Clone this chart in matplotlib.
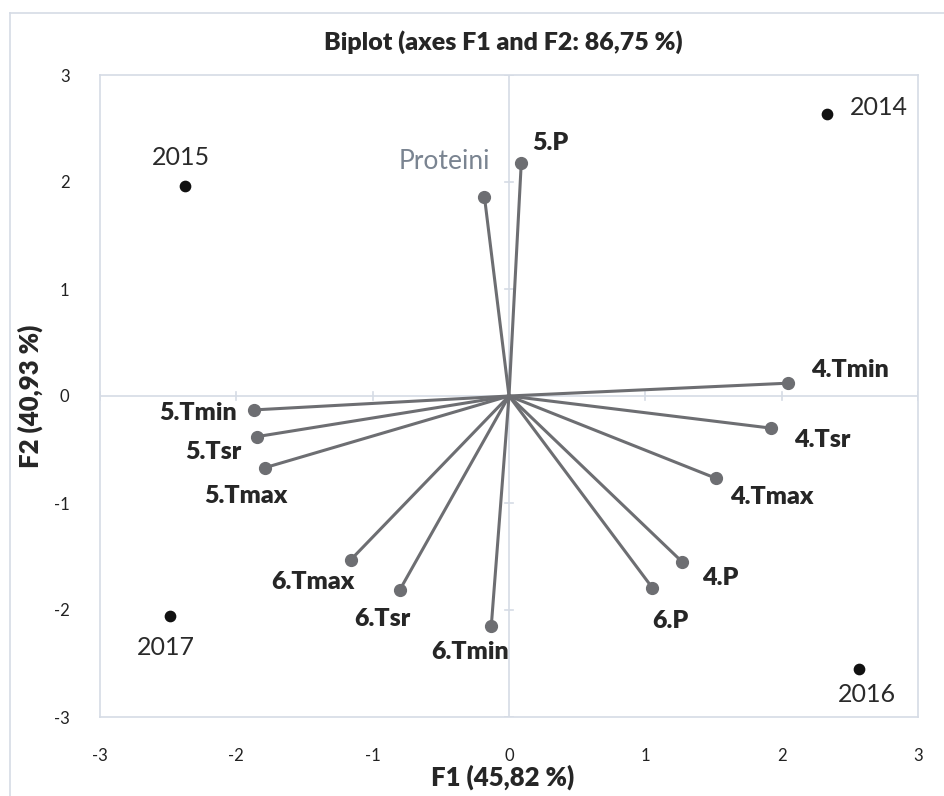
import matplotlib
matplotlib.use("Agg")
import matplotlib.pyplot as plt
from matplotlib.lines import Line2D

plt.rcParams['font.family'] = ['Lato', 'DejaVu Sans']

# observations (years)
years = ['2014', '2015', '2016', '2017']
obs_f1 = [2.33, -2.38, 2.57, -2.49]
obs_f2 = [2.64, 1.96, -2.55, -2.06]

# variables (loadings)
variables = ['5.P', 'Proteini', '4.Tmin', '4.Tsr', '4.Tmax', '4.P', '6.P',
             '6.Tmin', '6.Tsr', '6.Tmax', '5.Tmax', '5.Tsr', '5.Tmin']
var_f1 = [0.09, -0.18, 2.05, 1.92, 1.52, 1.27, 1.05,
          -0.13, -0.80, -1.16, -1.79, -1.85, -1.87]
var_f2 = [2.18, 1.86, 0.12, -0.30, -0.77, -1.55, -1.79,
          -2.15, -1.81, -1.53, -0.67, -0.38, -0.13]

ticks = [-3, -2, -1, 0, 1, 2, 3]

# label offsets in pixels (dx right, dy up)
var_off = [(29, 20), (-40, 35), (61, 13), (51, -12), (56, -19), (38, -16), (18, -33),
           (-21, -26), (-18, -29), (-38, -22), (-19, -28), (-43, -15), (-56, -3)]
obs_off = [(52, 6), (-4, 29), (8, -26), (-4, -31)]

grid_col = '#d5dbe5'
line_col = '#6d6e72'

fig = plt.figure(figsize=(9.44, 7.96), dpi=100)
ax = fig.add_axes([100 / 944, 1 - 717 / 796, 818 / 944, 642 / 796])

# frame around the chart
fig.add_artist(Line2D([10 / 944, 10 / 944], [0, 1 - 13 / 796], color=grid_col, lw=1.2))
fig.add_artist(Line2D([10 / 944, 1], [1 - 13 / 796, 1 - 13 / 796], color=grid_col, lw=1.2))

ax.set_xlim(-3, 3)
ax.set_ylim(-3, 3)
ax.axhline(0, color=grid_col, lw=1.2, zorder=1)
ax.axvline(0, color=grid_col, lw=1.2, zorder=1)
# small tick marks along the zero lines
for t in ticks:
    if t != 0:
        ax.plot([t, t], [-0.04, 0.04], color=grid_col, lw=1.2, zorder=1)
        ax.plot([-0.03, 0.03], [t, t], color=grid_col, lw=1.2, zorder=1)

for sp in ax.spines.values():
    sp.set_color(grid_col)
    sp.set_linewidth(1.2)

ax.set_xticks(ticks)
ax.set_yticks(ticks)
ax.set_xticklabels([str(t) for t in ticks], fontsize=12, color='#222222')
ax.set_yticklabels([str(t) for t in ticks], fontsize=12, color='#222222')
ax.tick_params(length=0, pad=22)
ax.tick_params(axis='y', pad=22)

# vectors
for name, x, y, (dx, dy) in zip(variables, var_f1, var_f2, var_off):
    ax.plot([0, x], [0, y], color=line_col, lw=2.2, zorder=2)
    ax.plot(x, y, 'o', color=line_col, ms=8.5, zorder=3)
    if name == 'Proteini':
        ax.annotate(name, (x, y), xytext=(dx * 0.72, dy * 0.72), textcoords='offset points',
                    ha='center', va='center', fontsize=19, color='#7a8491')
    else:
        ax.annotate(name, (x, y), xytext=(dx * 0.72, dy * 0.72), textcoords='offset points',
                    ha='center', va='center', fontsize=18, fontweight='heavy', color='#262626')

# observations
ax.scatter(obs_f1, obs_f2, s=55, color='#111111', zorder=4)
for name, x, y, (dx, dy) in zip(years, obs_f1, obs_f2, obs_off):
    ax.annotate(name, (x, y), xytext=(dx * 0.72, dy * 0.72), textcoords='offset points',
                ha='center', va='center', fontsize=18, color='#2a2a2a')

fig.text(503 / 944, 1 - 42 / 796, 'Biplot (axes F1 and F2: 86,75 %)', ha='center', va='center',
         fontsize=18, fontweight='heavy', color='#262626')
fig.text(503 / 944, 1 - 777 / 796, 'F1 (45,82 %)', ha='center', va='center',
         fontsize=18.5, fontweight='heavy', color='#262626')
fig.text(30 / 944, 1 - 396 / 796, 'F2 (40,93 %)', ha='center', va='center', rotation=90,
         fontsize=18.5, fontweight='heavy', color='#262626')

fig.savefig('out.png', dpi=100)
